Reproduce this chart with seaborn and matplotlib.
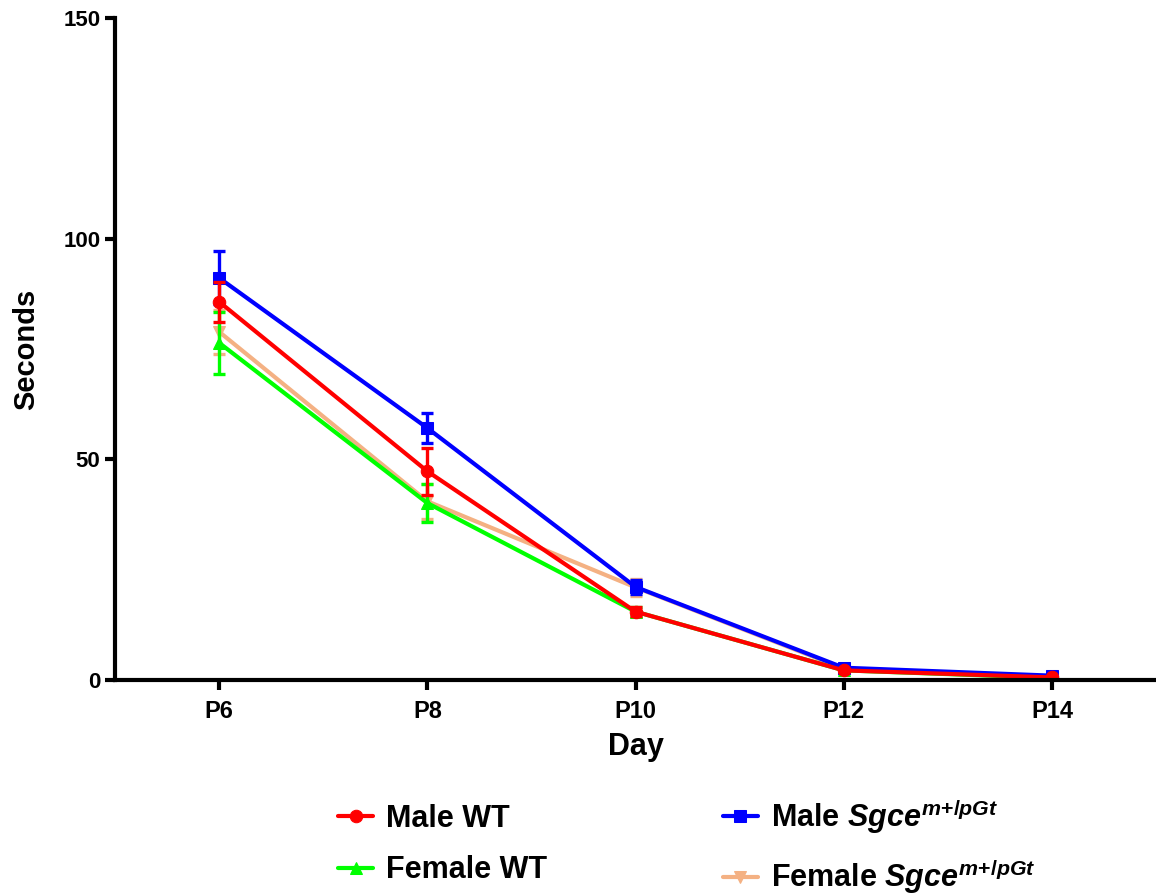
import numpy as np
import pandas as pd
import matplotlib
matplotlib.use("Agg")
import matplotlib.pyplot as plt
import seaborn as sns

# values (mean and SEM per day)
days = [6, 8, 10, 12, 14]
day_labels = ["P6", "P8", "P10", "P12", "P14"]

male_wt = [85.7, 47.3, 15.5, 2.2, 0.6]
male_wt_err = [4.5, 5.3, 1.0, 0.4, 0.3]
female_wt = [76.4, 40.1, 15.5, 2.2, 0.5]
female_wt_err = [7.0, 4.4, 1.0, 0.4, 0.3]
male_sgce = [91.1, 57.1, 21.1, 2.8, 1.0]
male_sgce_err = [6.0, 3.5, 1.5, 0.5, 0.4]
female_sgce = [78.9, 40.5, 21.0, 2.6, 0.8]
female_sgce_err = [5.0, 4.0, 2.0, 0.5, 0.4]

sns.set_style("white")
plt.rcParams["font.family"] = ["Liberation Sans", "DejaVu Sans"]
plt.rcParams["font.weight"] = "bold"
plt.rcParams["text.color"] = "black"
plt.rcParams["axes.labelcolor"] = "black"
plt.rcParams["mathtext.fontset"] = "custom"
plt.rcParams["mathtext.it"] = "Liberation Sans:italic:bold"
plt.rcParams["mathtext.rm"] = "Liberation Sans:bold"

fig = plt.figure(figsize=(11.56, 8.96), dpi=100)
ax = fig.add_axes([0.0995, 0.241, 0.9005, 0.739])

sgce = r"$\mathit{Sgce}^{\mathit{m{+}}\mathrm{/}\mathit{pGt}}$"
series = [
    ("Female " + sgce, female_sgce, female_sgce_err, "#F4B183", "v"),
    ("Female WT", female_wt, female_wt_err, "#00FF00", "^"),
    ("Male " + sgce, male_sgce, male_sgce_err, "#0000FF", "s"),
    ("Male WT", male_wt, male_wt_err, "#FF0000", "o"),
]

for name, vals, errs, col, mk in series:
    df = pd.DataFrame({"Day": days, "Seconds": vals})
    sns.lineplot(data=df, x="Day", y="Seconds", ax=ax, color=col, marker=mk,
                 markersize=9, markeredgecolor=col, linewidth=3.0, label=name)
    ax.errorbar(days, vals, yerr=errs, fmt="none", ecolor=col, elinewidth=2.4,
                capsize=4.5, capthick=2.4)

ax.set_xlim(5, 15)
ax.set_ylim(0, 150)
ax.set_xticks(days)
ax.set_xticklabels(day_labels)
ax.set_yticks([0, 50, 100, 150])
ax.set_xlabel("Day", fontsize=22, fontweight="bold", labelpad=7)
ax.set_ylabel("Seconds", fontsize=21, fontweight="bold", labelpad=17)
ax.tick_params(axis="both", direction="out", length=7, width=3, labelsize=17,
               colors="black", bottom=True, left=True)
ax.tick_params(axis="x", pad=7)
ax.tick_params(axis="y", pad=3.5, labelsize=16)
for lab in ax.get_xticklabels() + ax.get_yticklabels():
    lab.set_fontweight("bold")
for s in ["top", "right"]:
    ax.spines[s].set_visible(False)
for s in ["left", "bottom"]:
    ax.spines[s].set_linewidth(3)
    ax.spines[s].set_color("black")

h, l = ax.get_legend_handles_labels()
order = [3, 1, 2, 0]
leg = ax.legend([h[i] for i in order], [l[i] for i in order], ncol=2, frameon=False,
                loc="upper left", bbox_to_anchor=(338 / 1156, 1 - 797 / 896),
                bbox_transform=fig.transFigure, borderpad=0, borderaxespad=0,
                prop={"size": 22, "weight": "bold"},
                columnspacing=5.75, handlelength=1.15, handletextpad=0.42,
                labelspacing=0.7)
for t in leg.get_texts():
    t.set_color("black")

fig.savefig("out.png", dpi=100)
